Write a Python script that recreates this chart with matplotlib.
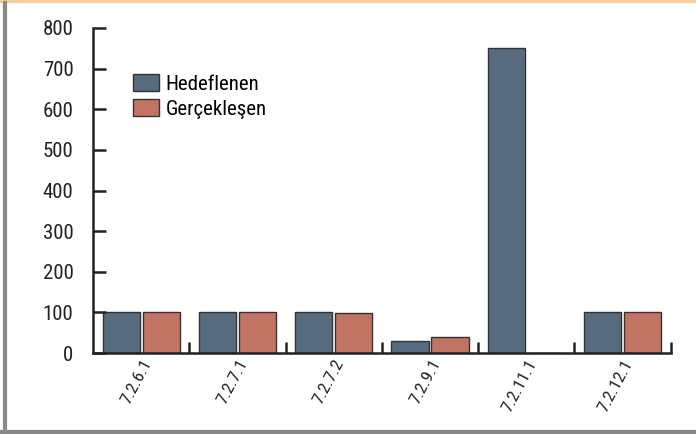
import matplotlib
matplotlib.use("Agg")
import matplotlib.pyplot as plt
import numpy as np
from matplotlib.lines import Line2D

# veriler
kategoriler = ["7.2.6.1", "7.2.7.1", "7.2.7.2", "7.2.9.1", "7.2.11.1", "7.2.12.1"]
hedeflenen = [100, 100, 100, 30, 750, 100]
gerceklesen = [100, 100, 98, 40, 0, 100]
y_ticks = [0, 100, 200, 300, 400, 500, 600, 700, 800]
seri_adlari = ["Hedeflenen", "Gerçekleşen"]

mavi = "#566c7e"
turuncu = "#c27464"

plt.rcParams["font.family"] = ["Roboto Condensed", "Liberation Sans Narrow", "Roboto", "DejaVu Sans"]

fig = plt.figure(figsize=(6.96, 4.34), dpi=100)
ax = fig.add_axes([0.1336, 0.1866, 0.8301, 0.7489])

x = np.arange(len(kategoriler))
w = 0.385
ax.bar(x - 0.015 - w / 2, hedeflenen, w, color=mavi, edgecolor="#333333", linewidth=1, label=seri_adlari[0])
ax.bar(x + 0.015 + w / 2, gerceklesen, w, color=turuncu, edgecolor="#333333", linewidth=1, label=seri_adlari[1])

ax.set_xlim(-0.5, len(kategoriler) - 0.5)
ax.set_ylim(0, 800)
ax.set_yticks(y_ticks)
ax.set_yticklabels([str(v) for v in y_ticks], fontsize=15, color="#222222")

# x eksenindeki çentikler kategori sınırlarında
ax.set_xticks(x + 0.5, minor=False)
ax.set_xticklabels([])
ax.set_xticks(x, minor=True)
ax.set_xticklabels(kategoriler, minor=True, rotation=62, ha="right", va="top",
                   rotation_mode="anchor", fontsize=12.5, color="#222222")
ax.tick_params(axis="x", which="minor", length=0, pad=3)
ax.tick_params(axis="x", which="major", direction="in", length=8, width=1.8, color="#222222")
ax.tick_params(axis="y", direction="in", length=9, width=1.8, color="#222222", pad=14)

for s in ["top", "right"]:
    ax.spines[s].set_visible(False)
for s in ["left", "bottom"]:
    ax.spines[s].set_linewidth(1.8)
    ax.spines[s].set_color("#222222")

ax.legend(loc="upper left", bbox_to_anchor=(0.07, 0.858), frameon=False, fontsize=15,
          handlelength=1.25, handleheight=0.9, handletextpad=0.3, labelspacing=0.25,
          borderpad=0, borderaxespad=0)

# çerçeve
fig.add_artist(Line2D([0, 1], [0.997, 0.997], transform=fig.transFigure, color="#f3cf9c", linewidth=3))
fig.add_artist(Line2D([0.0072, 0.0072], [0, 0.993], transform=fig.transFigure, color="#888888", linewidth=3))
fig.add_artist(Line2D([0, 1], [0.004, 0.004], transform=fig.transFigure, color="#888888", linewidth=3))

fig.savefig("out.png", dpi=100)
